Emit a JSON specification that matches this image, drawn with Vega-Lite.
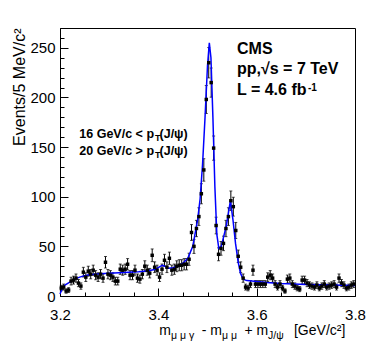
{
  "$schema": "https://vega.github.io/schema/vega-lite/v6.json",
  "width": 295,
  "height": 268,
  "autosize": {"type": "none"},
  "padding": {"left": 60, "top": 28, "right": 19, "bottom": 65},
  "config": {
    "view": {"stroke": "black", "strokeWidth": 1},
    "font": "Liberation Sans",
    "axis": {"grid": false, "domainColor": "black", "tickColor": "black", "labelColor": "black", "labelFont": "Liberation Sans", "labelFontSize": 15, "titleFont": "Liberation Sans", "titleColor": "black", "titleFontWeight": "normal"}
  },
  "datasets": {
    "pts": [
      {"m":3.2025,"n":8,"e":2.8},{"m":3.2075,"n":9,"e":3.0},{"m":3.2125,"n":5,"e":2.2},{"m":3.2175,"n":6,"e":2.4},
      {"m":3.2225,"n":15,"e":3.9},{"m":3.2275,"n":16,"e":4.0},{"m":3.2325,"n":18,"e":4.2},{"m":3.2375,"n":13,"e":3.6},
      {"m":3.2425,"n":10,"e":3.2},{"m":3.2475,"n":24,"e":4.9},{"m":3.2525,"n":19,"e":4.4},{"m":3.2575,"n":25,"e":5.0},
      {"m":3.2625,"n":22,"e":4.7},{"m":3.2675,"n":26,"e":5.1},{"m":3.2725,"n":21,"e":4.6},{"m":3.2775,"n":19,"e":4.4},
      {"m":3.2825,"n":22,"e":4.7},{"m":3.2875,"n":18,"e":4.2},{"m":3.2925,"n":34,"e":5.8},{"m":3.2975,"n":22,"e":4.7},
      {"m":3.3025,"n":21,"e":4.6},{"m":3.3075,"n":19,"e":4.4},{"m":3.3125,"n":15,"e":3.9},{"m":3.3175,"n":15,"e":3.9},
      {"m":3.3225,"n":27,"e":5.2},{"m":3.3275,"n":26,"e":5.1},{"m":3.3325,"n":27,"e":5.2},{"m":3.3375,"n":32,"e":5.7},
      {"m":3.3425,"n":21,"e":4.6},{"m":3.3475,"n":21,"e":4.6},{"m":3.3525,"n":26,"e":5.1},{"m":3.3575,"n":18,"e":4.2},
      {"m":3.3625,"n":17,"e":4.1},{"m":3.3675,"n":22,"e":4.7},{"m":3.3725,"n":30,"e":5.5},{"m":3.3775,"n":26,"e":5.1},
      {"m":3.3825,"n":23,"e":4.8},{"m":3.3875,"n":41,"e":6.4},{"m":3.3925,"n":29,"e":5.4},{"m":3.3975,"n":26,"e":5.1},
      {"m":3.4025,"n":19,"e":4.4},{"m":3.4075,"n":27,"e":5.2},{"m":3.4125,"n":36,"e":6.0},{"m":3.4175,"n":29,"e":5.4},
      {"m":3.4225,"n":38,"e":6.2},{"m":3.4275,"n":26,"e":5.1},{"m":3.4325,"n":27,"e":5.2},{"m":3.4375,"n":30,"e":5.5},
      {"m":3.4425,"n":31,"e":5.6},{"m":3.4475,"n":31,"e":5.6},{"m":3.4525,"n":32,"e":5.7},{"m":3.4575,"n":32,"e":5.7},
      {"m":3.4625,"n":37,"e":6.1},{"m":3.4675,"n":64,"e":8.0},{"m":3.4725,"n":50,"e":7.1},{"m":3.4775,"n":68,"e":8.2},
      {"m":3.4825,"n":80,"e":8.9},{"m":3.4875,"n":103,"e":10.1},{"m":3.4925,"n":127,"e":11.3},{"m":3.4975,"n":198,"e":14.1},
      {"m":3.5025,"n":235,"e":15.3},{"m":3.5075,"n":215,"e":14.7},{"m":3.5125,"n":149,"e":12.2},{"m":3.5175,"n":71,"e":8.4},
      {"m":3.5225,"n":42,"e":6.5},{"m":3.5275,"n":48,"e":6.9},{"m":3.5325,"n":53,"e":7.3},{"m":3.5375,"n":68,"e":8.2},
      {"m":3.5425,"n":80,"e":8.9},{"m":3.5475,"n":96,"e":9.8},{"m":3.5525,"n":90,"e":9.5},{"m":3.5575,"n":66,"e":8.1},
      {"m":3.5625,"n":40,"e":6.3},{"m":3.5675,"n":29,"e":5.4},{"m":3.5725,"n":18,"e":4.2},{"m":3.5775,"n":9,"e":3.0},
      {"m":3.5825,"n":8,"e":2.8},{"m":3.5875,"n":12,"e":3.5},{"m":3.5925,"n":26,"e":5.1},{"m":3.5975,"n":12,"e":3.5},
      {"m":3.6025,"n":12,"e":3.5},{"m":3.6075,"n":12,"e":3.5},{"m":3.6125,"n":12,"e":3.5},{"m":3.6175,"n":12,"e":3.5},
      {"m":3.6225,"n":19,"e":4.4},{"m":3.6275,"n":21,"e":4.6},{"m":3.6325,"n":18,"e":4.2},{"m":3.6375,"n":12,"e":3.5},
      {"m":3.6425,"n":9,"e":3.0},{"m":3.6475,"n":12,"e":3.5},{"m":3.6525,"n":8,"e":2.8},{"m":3.6575,"n":5,"e":2.2},
      {"m":3.6625,"n":17,"e":4.1},{"m":3.6675,"n":18,"e":4.2},{"m":3.6725,"n":12,"e":3.5},{"m":3.6775,"n":10,"e":3.2},
      {"m":3.6825,"n":8,"e":2.8},{"m":3.6875,"n":7,"e":2.6},{"m":3.6925,"n":16,"e":4.0},{"m":3.6975,"n":16,"e":4.0},
      {"m":3.7025,"n":13,"e":3.6},{"m":3.7075,"n":11,"e":3.3},{"m":3.7125,"n":10,"e":3.2},{"m":3.7175,"n":9,"e":3.0},
      {"m":3.7225,"n":11,"e":3.3},{"m":3.7275,"n":8,"e":2.8},{"m":3.7325,"n":10,"e":3.2},{"m":3.7375,"n":12,"e":3.5},
      {"m":3.7425,"n":9,"e":3.0},{"m":3.7475,"n":10,"e":3.2},{"m":3.7525,"n":11,"e":3.3},{"m":3.7575,"n":12,"e":3.5},
      {"m":3.7625,"n":9,"e":3.0},{"m":3.7675,"n":18,"e":4.2},{"m":3.7725,"n":13,"e":3.6},{"m":3.7775,"n":11,"e":3.3},
      {"m":3.7825,"n":8,"e":2.8},{"m":3.7875,"n":9,"e":3.0},{"m":3.7925,"n":11,"e":3.3},{"m":3.7975,"n":12,"e":3.5}
    ],
    "fit": [
      {"m":3.200,"f":2},{"m":3.205,"f":8},{"m":3.210,"f":11},{"m":3.220,"f":14},{"m":3.230,"f":17},{"m":3.240,"f":19},
      {"m":3.250,"f":20.5},{"m":3.260,"f":21.5},{"m":3.280,"f":22.5},{"m":3.300,"f":23},{"m":3.320,"f":23.5},{"m":3.340,"f":24},
      {"m":3.360,"f":24.5},{"m":3.380,"f":25.5},{"m":3.395,"f":27},{"m":3.403,"f":29.5},{"m":3.408,"f":31},{"m":3.413,"f":30},
      {"m":3.420,"f":28},{"m":3.430,"f":28.5},{"m":3.440,"f":30},{"m":3.450,"f":33},{"m":3.460,"f":38},{"m":3.470,"f":50},
      {"m":3.480,"f":77},{"m":3.485,"f":98},{"m":3.490,"f":133},{"m":3.495,"f":180},{"m":3.500,"f":232},{"m":3.5037,"f":255},
      {"m":3.507,"f":240},{"m":3.511,"f":180},{"m":3.515,"f":110},{"m":3.519,"f":62},{"m":3.523,"f":48},{"m":3.528,"f":50},
      {"m":3.533,"f":60},{"m":3.538,"f":70},{"m":3.542,"f":82},{"m":3.5466,"f":96},{"m":3.552,"f":76},{"m":3.557,"f":53},
      {"m":3.5625,"f":34},{"m":3.567,"f":23},{"m":3.5725,"f":17},{"m":3.580,"f":15.5},{"m":3.600,"f":14.5},{"m":3.620,"f":13.5},
      {"m":3.650,"f":12.5},{"m":3.700,"f":11.5},{"m":3.750,"f":11},{"m":3.800,"f":10.5}
    ]
  },
  "encoding": {
    "x": {"type": "quantitative", "scale": {"domain": [3.2, 3.8], "nice": false, "zero": false},
      "axis": {"title": null, "values": [3.2,3.25,3.3,3.35,3.4,3.45,3.5,3.55,3.6,3.65,3.7,3.75,3.8],
        "labelExpr": "abs(datum.value*5-round(datum.value*5))<0.001 ? format(datum.value,'.1f') : ''",
        "tickSize": -8,
        "tickDash": {"condition": {"test": "abs(datum.value*5-round(datum.value*5))<0.001", "value": [8, 0]}, "value": [4, 10]},
        "labelPadding": 19, "labelFlush": false, "labelOverlap": false}},
    "y": {"type": "quantitative", "scale": {"domain": [0, 270], "nice": false},
      "axis": {"title": "Events/5 MeV/c²", "titleFontSize": 16, "titleAngle": -90, "titleAlign": "right", "titleBaseline": "alphabetic", "titleX": -36, "titleY": 0,
        "values": [0,10,20,30,40,50,60,70,80,90,100,110,120,130,140,150,160,170,180,190,200,210,220,230,240,250,260,270],
        "labelExpr": "datum.value % 50 == 0 ? datum.label : ''",
        "tickSize": -8,
        "tickDash": {"condition": {"test": "datum.value % 50 == 0", "value": [8, 0]}, "value": [4, 10]},
        "labelPadding": 13, "labelFlush": false, "labelOverlap": false}}
  },
  "layer": [
    {
      "data": {"name": "pts"},
      "mark": {"type": "errorbar", "ticks": {"size": 3, "color": "black"}, "rule": {"strokeWidth": 1, "color": "black"}},
      "encoding": {
        "x": {"field": "m"},
        "y": {"field": "n"},
        "yError": {"field": "e"}
      }
    },
    {
      "data": {"name": "fit"},
      "mark": {"type": "line", "color": "#0000ff", "strokeWidth": 1.5},
      "encoding": {
        "x": {"field": "m"},
        "y": {"field": "f"}
      }
    },
    {
      "data": {"name": "pts"},
      "mark": {"type": "point", "shape": "square", "filled": true, "color": "black", "size": 12, "opacity": 1},
      "encoding": {
        "x": {"field": "m"},
        "y": {"field": "n"}
      }
    },
    {"data": {"values": [{}]}, "mark": {"type": "text", "text": "CMS", "align": "left", "baseline": "alphabetic", "fontWeight": "bold", "fontSize": 16, "color": "black"},
      "encoding": {"x": {"datum": 3.56}, "y": {"datum": 243.5}}},
    {"data": {"values": [{}]}, "mark": {"type": "text", "text": "pp,√s = 7 TeV", "align": "left", "baseline": "alphabetic", "fontWeight": "bold", "fontSize": 16, "color": "black"},
      "encoding": {"x": {"datum": 3.56}, "y": {"datum": 224}}},
    {"data": {"values": [{}]}, "mark": {"type": "text", "text": "L = 4.6 fb", "align": "left", "baseline": "alphabetic", "fontWeight": "bold", "fontSize": 16, "color": "black"},
      "encoding": {"x": {"datum": 3.56}, "y": {"datum": 202.7}}},
    {"data": {"values": [{}]}, "mark": {"type": "text", "text": "-1", "align": "left", "baseline": "alphabetic", "fontWeight": "bold", "fontSize": 10, "color": "black"},
      "encoding": {"x": {"datum": 3.7044}, "y": {"datum": 207}}},
    {"data": {"values": [{}]}, "mark": {"type": "text", "text": "16 GeV/c < p", "align": "left", "baseline": "alphabetic", "fontWeight": "bold", "fontSize": 12.5, "color": "black"},
      "encoding": {"x": {"datum": 3.2393}, "y": {"datum": 159.3}}},
    {"data": {"values": [{}]}, "mark": {"type": "text", "text": "T", "align": "left", "baseline": "alphabetic", "fontWeight": "bold", "fontSize": 9, "color": "black"},
      "encoding": {"x": {"datum": 3.3932}, "y": {"datum": 156.3}}},
    {"data": {"values": [{}]}, "mark": {"type": "text", "text": "(J/ψ)", "align": "left", "baseline": "alphabetic", "fontWeight": "bold", "fontSize": 12.5, "color": "black"},
      "encoding": {"x": {"datum": 3.4024}, "y": {"datum": 159.3}}},
    {"data": {"values": [{}]}, "mark": {"type": "text", "text": "20 GeV/c > p", "align": "left", "baseline": "alphabetic", "fontWeight": "bold", "fontSize": 12.5, "color": "black"},
      "encoding": {"x": {"datum": 3.2393}, "y": {"datum": 142}}},
    {"data": {"values": [{}]}, "mark": {"type": "text", "text": "T", "align": "left", "baseline": "alphabetic", "fontWeight": "bold", "fontSize": 9, "color": "black"},
      "encoding": {"x": {"datum": 3.3932}, "y": {"datum": 139}}},
    {"data": {"values": [{}]}, "mark": {"type": "text", "text": "(J/ψ)", "align": "left", "baseline": "alphabetic", "fontWeight": "bold", "fontSize": 12.5, "color": "black"},
      "encoding": {"x": {"datum": 3.4024}, "y": {"datum": 142}}},
    {"data": {"values": [{}]}, "mark": {"type": "text", "text": "m", "align": "left", "baseline": "alphabetic", "fontSize": 14, "color": "black"},
      "encoding": {"x": {"datum": 3.402}, "y": {"datum": -39.7}}},
    {"data": {"values": [{}]}, "mark": {"type": "text", "text": "μ μ γ", "align": "left", "baseline": "alphabetic", "fontSize": 10.5, "color": "black"},
      "encoding": {"x": {"datum": 3.4257}, "y": {"datum": -43}}},
    {"data": {"values": [{}]}, "mark": {"type": "text", "text": "- m", "align": "left", "baseline": "alphabetic", "fontSize": 14, "color": "black"},
      "encoding": {"x": {"datum": 3.4882}, "y": {"datum": -39.7}}},
    {"data": {"values": [{}]}, "mark": {"type": "text", "text": "μ μ", "align": "left", "baseline": "alphabetic", "fontSize": 10.5, "color": "black"},
      "encoding": {"x": {"datum": 3.5295}, "y": {"datum": -43}}},
    {"data": {"values": [{}]}, "mark": {"type": "text", "text": "+ m", "align": "left", "baseline": "alphabetic", "fontSize": 14, "color": "black"},
      "encoding": {"x": {"datum": 3.5752}, "y": {"datum": -39.7}}},
    {"data": {"values": [{}]}, "mark": {"type": "text", "text": "J/ψ", "align": "left", "baseline": "alphabetic", "fontSize": 10.5, "color": "black"},
      "encoding": {"x": {"datum": 3.623}, "y": {"datum": -43}}},
    {"data": {"values": [{}]}, "mark": {"type": "text", "text": "[GeV/c²]", "align": "left", "baseline": "alphabetic", "fontSize": 14, "color": "black"},
      "encoding": {"x": {"datum": 3.6759}, "y": {"datum": -39.7}}}
  ]
}
